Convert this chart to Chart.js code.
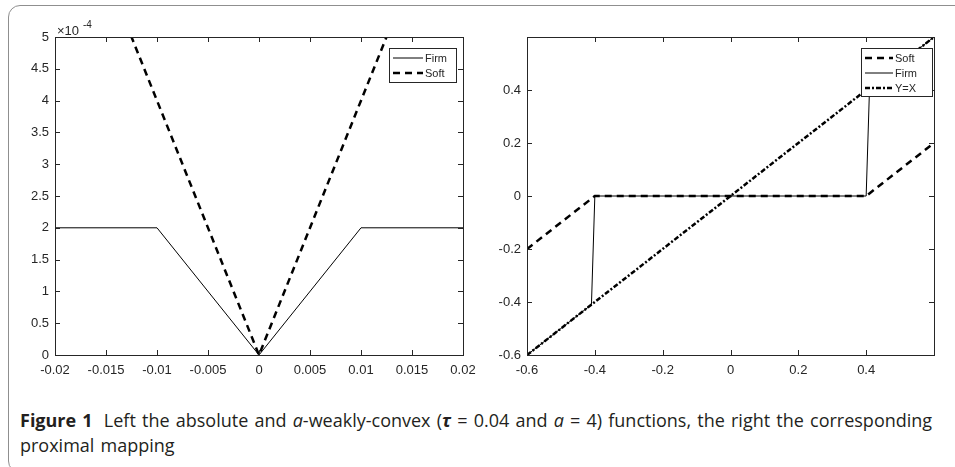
<!DOCTYPE html>
<html>
<head>
<meta charset="utf-8">
<script src="https://cdn.jsdelivr.net/npm/chart.js@4.4.1/dist/chart.umd.min.js"></script>
<style>
  body { margin: 0; background: #fff; width: 955px; height: 467px; overflow: hidden; position: relative; }
  #frame { position: absolute; left: 8px; top: 5px; width: 1000px; height: 468px; border: 1.5px solid #8f8f8f; border-radius: 12px; box-sizing: border-box; }
  canvas { position: absolute; top: 0; }
  #left { left: 0; }
  #right { left: 477px; }
  #caption { position: absolute; left: 20px; top: 408px; font-family: "Open Sans", sans-serif; font-size: 18px; line-height: 25px; color: #231f20; white-space: nowrap; word-spacing: 1.5px; }
  #caption .fig { font-weight: bold; margin-right: 5px; }
</style>
</head>
<body>
<div id="frame"></div>
<canvas id="left" width="477" height="380"></canvas>
<canvas id="right" width="478" height="380"></canvas>
<div id="caption"><b class="fig">Figure 1</b> Left the absolute and <i>a</i>-weakly-convex (<b><i>τ</i></b> = 0.04 and <i>a</i> = 4) functions, the right the corresponding<br>proximal mapping</div>
<script>
// left panel: penalty functions
const firmLeftX = [-0.02, -0.01, 0, 0.01, 0.02];
const firmLeftY = [2e-4, 2e-4, 0, 2e-4, 2e-4];
const softLeftX = [-0.02, 0, 0.02];
const softLeftY = [8e-4, 0, 8e-4];
const leftXTicks = [-0.02, -0.015, -0.01, -0.005, 0, 0.005, 0.01, 0.015, 0.02];
const leftYTicks = [0, 0.5, 1, 1.5, 2, 2.5, 3, 3.5, 4, 4.5, 5]; // x 10^-4

// right panel: proximal mapping
const softRightX = [-0.6, -0.4, 0.4, 0.6];
const softRightY = [-0.2, 0, 0, 0.2];
const firmRightX = [-0.6, -0.41, -0.4, 0.4, 0.41, 0.6];
const firmRightY = [-0.6, -0.41, 0, 0, 0.41, 0.6];
const identX = [-0.6, 0.6];
const identY = [-0.6, 0.6];
const rightTicks = [-0.6, -0.4, -0.2, 0, 0.2, 0.4];

const toPoints = (xs, ys) => xs.map((x, i) => ({ x: x, y: ys[i] }));
const axisFont = { family: '"Liberation Sans", Arial, sans-serif', size: 13 };
const ink = '#262626';

// MATLAB style box, inward ticks and framed legend
const matlabBox = {
    id: 'matlabBox',
    afterDatasetsDraw(chart, args, opts) {
        const { ctx, chartArea: a, scales: { x, y } } = chart;
        ctx.save();
        ctx.strokeStyle = ink;
        ctx.lineWidth = 1;
        ctx.strokeRect(Math.round(a.left) + 0.5, Math.round(a.top) + 0.5, Math.round(a.right - a.left), Math.round(a.bottom - a.top));
        ctx.beginPath();
        x.ticks.forEach(t => {
            const px = Math.round(x.getPixelForValue(t.value)) + 0.5;
            ctx.moveTo(px, a.bottom); ctx.lineTo(px, a.bottom - 5);
            ctx.moveTo(px, a.top); ctx.lineTo(px, a.top + 5);
        });
        y.ticks.forEach(t => {
            const py = Math.round(y.getPixelForValue(t.value)) + 0.5;
            ctx.moveTo(a.left, py); ctx.lineTo(a.left + 5, py);
            ctx.moveTo(a.right, py); ctx.lineTo(a.right - 5, py);
        });
        ctx.stroke();

        if (opts.exponent) {
            ctx.fillStyle = ink;
            ctx.textBaseline = 'alphabetic';
            ctx.font = '13px "Liberation Sans", Arial, sans-serif';
            ctx.fillText('\u00d710', a.left + 2, a.top - 2);
            ctx.font = '10px "Liberation Sans", Arial, sans-serif';
            ctx.fillText('-4', a.left + 28, a.top - 9);
        }

        const L = opts.legend;
        if (L) {
            ctx.fillStyle = '#fff';
            ctx.fillRect(L.x, L.y, L.w, L.h);
            ctx.strokeStyle = ink;
            ctx.lineWidth = 1;
            ctx.strokeRect(L.x + 0.5, L.y + 0.5, L.w, L.h);
            ctx.font = '11px "Liberation Sans", Arial, sans-serif';
            ctx.textBaseline = 'middle';
            chart.data.datasets.forEach((ds, i) => {
                const ry = L.y + L.first + i * L.row;
                ctx.save();
                ctx.strokeStyle = ds.borderColor;
                ctx.lineWidth = ds.borderWidth;
                ctx.setLineDash(ds.borderDash || []);
                ctx.beginPath();
                ctx.moveTo(L.x + 4, ry);
                ctx.lineTo(L.x + 4 + L.sample, ry);
                ctx.stroke();
                ctx.restore();
                ctx.fillStyle = ink;
                ctx.fillText(ds.label, L.x + 6 + L.sample, ry + 0.5);
            });
        }
        ctx.restore();
    }
};

const baseScale = (min, max, ticks, fmt, fit, isX) => ({
    type: 'linear',
    min: min,
    max: max,
    grid: { display: false, drawTicks: false },
    border: { display: false },
    afterBuildTicks: s => { s.ticks = ticks.map(v => ({ value: v })); },
    afterFit: s => {
        if (isX) {
            s.height = fit;
            s.paddingLeft = 0;
            s.paddingRight = 0;
        } else {
            s.width = fit;
            s.paddingTop = 0;
            s.paddingBottom = 0;
        }
    },
    ticks: {
        autoSkip: false,
        maxRotation: 0,
        padding: isX ? 8 : 6,
        color: ink,
        font: axisFont,
        callback: fmt
    }
});

const lineSet = (label, pts, width, dash, order) => ({
    label: label,
    data: pts,
    showLine: true,
    pointRadius: 0,
    borderColor: '#000',
    borderWidth: width,
    borderDash: dash,
    tension: 0,
    fill: false,
    order: order
});

new Chart(document.getElementById('left'), {
    type: 'scatter',
    data: {
        datasets: [
            lineSet('Firm', toPoints(firmLeftX, firmLeftY), 1, [], 1),
            lineSet('Soft', toPoints(softLeftX, softLeftY), 2.5, [7, 5], 0)
        ]
    },
    options: {
        responsive: false,
        animation: false,
        events: [],
        layout: { padding: { top: 37, right: 14, left: 0, bottom: 0 } },
        scales: {
            x: baseScale(-0.02, 0.02, leftXTicks, v => String(v), 25, true),
            y: baseScale(0, 5e-4, leftYTicks.map(v => v * 1e-4), (v, i) => String(leftYTicks[i]), 55, false)
        },
        plugins: {
            legend: { display: false },
            tooltip: { enabled: false },
            matlabBox: { exponent: true, legend: { x: 389, y: 48, w: 67, h: 34, first: 10, row: 15, sample: 30 } }
        }
    },
    plugins: [matlabBox]
});

const fmtRight = v => String(Math.round(v * 10) / 10);

new Chart(document.getElementById('right'), {
    type: 'scatter',
    data: {
        datasets: [
            lineSet('Soft', toPoints(softRightX, softRightY), 2.5, [7, 5], 1),
            lineSet('Firm', toPoints(firmRightX, firmRightY), 1, [], 2),
            lineSet('Y=X', toPoints(identX, identY), 2.5, [5, 2, 2, 2], 0)
        ]
    },
    options: {
        responsive: false,
        animation: false,
        events: [],
        layout: { padding: { top: 37, right: 21, left: 0, bottom: 0 } },
        scales: {
            x: baseScale(-0.6, 0.6, rightTicks, fmtRight, 25, true),
            y: baseScale(-0.6, 0.6, rightTicks, fmtRight, 50, false)
        },
        plugins: {
            legend: { display: false },
            tooltip: { enabled: false },
            matlabBox: { legend: { x: 384, y: 48, w: 71, h: 48, first: 10, row: 15, sample: 28 } }
        }
    },
    plugins: [matlabBox]
});
</script>
</body>
</html>
